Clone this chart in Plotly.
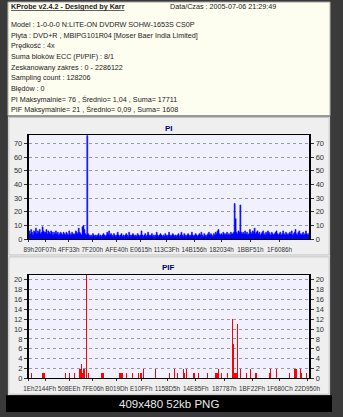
import plotly.graph_objects as go

W, H = 343, 417

# ---------------- data ----------------
header_title = "KProbe v2.4.2 - Designed by Karr"
header_date = "Data/Czas : 2005-07-06 21:29:49"
header_lines = [
    "Model : 1-0-0-0 N:LITE-ON DVDRW SOHW-1653S CS0P",
    "Płyta : DVD+R , MBIPG101R04 [Moser Baer India Limited]",
    "Prędkość : 4x",
    "Suma bloków ECC (PI/PIF) : 8/1",
    "Zeskanowany zakres : 0 - 2286122",
    "Sampling count : 128206",
    "Błędów : 0",
    "PI Maksymalnie= 76 , Średnio= 1,04 , Suma= 17711",
    "PIF Maksymalnie= 21 , Średnio= 0,09 , Suma= 1608",
]

pi_ticks = ["89h", "20F07h", "4FF33h", "7F200h", "AFE40h", "E0615h", "113C3Fh",
            "14B156h", "182034h", "1BBF51h", "1F6086h"]
pif_ticks = ["1Eh", "2144Fh", "508EEh", "7FE06h", "B019Dh", "E10FFh", "1158D5h",
             "14E85Fh", "187787h", "1BF22Fh", "1F680Ch", "22D950h"]

x_max_lba = 2300000
pi_step_lba = 7800  # LBA per plotted PI sample

pi_values = (
    [6, 4, 7, 5, 3, 6, 5, 8, 4, 6, 5, 7, 4, 5, 9, 6, 5]
    + [5, 7, 4, 6, 5, 4, 6, 5, 3, 5, 4, 6, 4, 5, 3, 4, 5, 4, 3, 5]
    + [4, 3, 5, 4, 3, 6, 4, 3, 5, 4, 3, 4, 6, 5, 4]
    + [8, 5, 4, 3, 9, 10, 7, 4, 3]
    + [76]
    + [4, 3, 2, 3, 2, 4, 3, 2, 3, 2, 3, 4, 2, 3, 2, 3, 4, 3, 2, 3, 5, 4, 6, 3, 4]
    + [3, 2, 4, 3, 2, 3, 5, 3, 2, 3, 4, 2, 3, 2, 3, 4, 3, 2, 5, 3, 2, 3, 4, 3, 2,
       3, 2, 4, 3, 2, 3, 6, 3, 2, 3, 4, 2, 3, 5, 3]
    + [2, 3, 4, 2, 3, 2, 3, 5, 3, 2, 3, 4, 3, 2, 3, 2, 4, 3, 2, 3, 5, 3, 2, 3, 4,
       3, 2, 3, 2, 3, 4, 2, 3, 5, 3, 2, 4, 3, 2, 3, 4, 3, 2, 3, 5, 3, 2, 3, 4, 3]
    + [2, 3, 4, 3, 5, 3, 2, 4, 3, 2, 3, 4, 5, 3, 4, 3, 2, 4, 3, 5, 4, 6, 7, 4, 3,
       4, 3, 5, 4, 3, 4, 5, 3, 4, 3, 5, 4]
    + [4, 5, 26, 15, 5, 4, 6, 5, 25, 5, 4]
    + [5, 4, 6, 4, 5, 3, 4, 7, 5, 4, 6, 5, 8, 4, 5, 6, 4, 5, 3, 4, 5, 6, 4, 3, 5,
       4, 6, 5, 4, 3, 5, 4, 3, 4, 5, 6, 4, 3, 4, 5, 3, 4, 6, 4, 3, 5, 4, 3, 4, 5,
       4, 6, 3, 4, 5, 7, 4, 3, 5, 6, 4, 3, 4, 5, 3, 4, 6, 4, 3, 4, 5]
)
pi_lba = [i * pi_step_lba for i in range(len(pi_values))]

pif_lba = [23400, 109200, 117000, 124800, 304200, 335400, 374400, 413400, 421200,
           429000, 436800, 452400, 460200, 475800, 491400, 592800, 600600, 616200,
           741000, 748800, 756600, 764400, 772200, 803400, 850200, 897000, 912600,
           928200, 943800, 1037400, 1154400, 1193400, 1216800, 1271400, 1279200,
           1294800, 1349400, 1357200, 1388400, 1466400, 1528800, 1536600, 1544400,
           1552200, 1583400, 1630200, 1669200, 1677000, 1684800, 1692600, 1700400,
           1708200, 1739400, 1786200, 1817400, 1856400, 1864200, 1973400, 1981200,
           2028000, 2137200, 2176200, 2184000, 2199600, 2230800, 2238600, 2277600]
pif_values = [1, 1, 1, 1, 1, 1, 1, 2, 2,
              3, 1, 2, 2, 21, 1, 1, 1, 1,
              1, 1, 1, 1, 1, 1, 1, 1, 1,
              1, 2, 2, 1, 2, 1, 2, 1,
              2, 1, 1, 1, 1, 1, 1, 1,
              2, 1, 1, 12, 7, 1, 1, 1,
              11, 2, 1, 2, 1, 1, 1, 2,
              2, 1, 2, 2, 2, 2, 1, 1]

pi_range = [0, 76]
pif_range = [0, 21]
pi_grid = [0, 10, 20, 30, 40, 50, 60, 70]
pif_grid = [0, 2, 4, 6, 8, 10, 12, 14, 16, 18, 20]

# ---------------- helpers (layout pixels -> paper) ----------------
def fx(px):
    return px / W

def fy(py):
    return 1 - py / H

PLOT_L, PLOT_R = 24, 319
PI_T, PI_B = 137, 242
PIF_T, PIF_B = 278, 383

fig = go.Figure()

fig.add_trace(go.Scatter(
    x=pi_lba, y=pi_values, mode="lines", line=dict(color="#0000ff", width=0.6, shape="hv"),
    fill="tozeroy", fillcolor="#0000ff", xaxis="x", yaxis="y", hoverinfo="skip",
    showlegend=False))
fig.add_trace(go.Scatter(
    x=pi_lba, y=pi_values, mode="lines", line=dict(width=0), opacity=0,
    xaxis="x", yaxis="y2", hoverinfo="skip", showlegend=False))

fig.add_trace(go.Bar(
    x=pif_lba, y=pif_values, width=pi_step_lba, marker=dict(color="#ff0000", line=dict(width=0)),
    xaxis="x2", yaxis="y3", hoverinfo="skip", showlegend=False))
fig.add_trace(go.Scatter(
    x=pif_lba, y=pif_values, mode="lines", line=dict(width=0), opacity=0,
    xaxis="x2", yaxis="y4", hoverinfo="skip", showlegend=False))

tickfont = dict(family="Liberation Sans", size=7.5, color="#333333")
xtickfont = dict(family="Liberation Sans", size=6.3, color="#333333")

def xaxis_def(ticks, anchor):
    return dict(
        domain=[fx(PLOT_L), fx(PLOT_R)], range=[0, x_max_lba], anchor=anchor,
        tickmode="array", tickvals=[int(t[:-1], 16) for t in ticks], ticktext=ticks,
        tickangle=0, ticks="outside", ticklen=2, tickcolor="#333333", tickfont=xtickfont,
        ticklabelstandoff=2,
        showgrid=False, zeroline=False, showline=True, linecolor="#000000",
        linewidth=1, mirror=True, fixedrange=True)

def yaxis_def(rng, grid, dom, side="left", overlay=None, anchor=None):
    d = dict(
        domain=dom, range=rng, tickmode="array", tickvals=grid, ticks="outside",
        ticklen=3, tickcolor="#333333", tickfont=tickfont, zeroline=False,
        showline=True, linecolor="#000000", linewidth=2, side=side, fixedrange=True)
    if overlay:
        d.update(overlaying=overlay, showgrid=False, anchor=anchor)
    else:
        d.update(showgrid=True, gridcolor="#9a9a9a", griddash="dot", gridwidth=1,
                 anchor=anchor)
    return d

fig.update_layout(
    width=W, height=H, autosize=False,
    margin=dict(l=0, r=0, t=0, b=0, pad=0),
    paper_bgcolor="#3a3a3a", plot_bgcolor="rgba(0,0,0,0)",
    xaxis=xaxis_def(pi_ticks, "y"),
    xaxis2=xaxis_def(pif_ticks, "y3"),
    yaxis=yaxis_def(pi_range, pi_grid, [fy(PI_B), fy(PI_T)], anchor="x"),
    yaxis2=yaxis_def(pi_range, pi_grid, [fy(PI_B), fy(PI_T)], side="right", overlay="y", anchor="x"),
    yaxis3=yaxis_def(pif_range, pif_grid, [fy(PIF_B), fy(PIF_T)], anchor="x2"),
    yaxis4=yaxis_def(pif_range, pif_grid, [fy(PIF_B), fy(PIF_T)], side="right", overlay="y3", anchor="x2"),
    bargap=0,
)

def rect(x0, y0, x1, y1, fill, line=None, lw=1):
    fig.add_shape(type="rect", xref="paper", yref="paper",
                  x0=fx(x0), x1=fx(x1), y0=fy(y1), y1=fy(y0),
                  fillcolor=fill, line=dict(color=line or fill, width=lw if line else 0),
                  layer="below")

rect(2, 2, 341, 117, "#fdfdf0", "#9a9a9a")
rect(2, 118, 341, 400, "#ececec")
rect(3, 119, 340, 258, "#efefef", "#c4c4c4")
rect(3, 260, 340, 399, "#efefef", "#c4c4c4")
rect(0, 400, 343, 417, "#000000")
rect(PLOT_L, PI_T, PLOT_R, PI_B, "#f0f0ff")
rect(PLOT_L, PIF_T, PLOT_R, PIF_B, "#f0f0ff")

hfont = dict(family="Liberation Sans", size=7.2, color="#222222")

def text(px, py, s, font, xanchor="left"):
    fig.add_annotation(xref="paper", yref="paper", x=fx(px), y=fy(py), text=s,
                       showarrow=False, xanchor=xanchor, yanchor="middle", font=font)

text(3, 7, "<u><b>" + header_title + "</b></u>", hfont)
text(170, 7, header_date, hfont)
for k, s in enumerate(header_lines):
    text(3, 25 + k * 10.75, s, hfont)

title_font = dict(family="Liberation Sans", size=8, color="#000080")
text(171, 130, "<b>PI</b>", title_font, "center")
text(171, 271, "<b>PIF</b>", title_font, "center")

text(171, 409, "409x480 52kb PNG", dict(family="Liberation Sans", size=11.5, color="#e8e8e8"), "center")

fig.write_html("out.html", config={"displayModeBar": False, "staticPlot": True})
